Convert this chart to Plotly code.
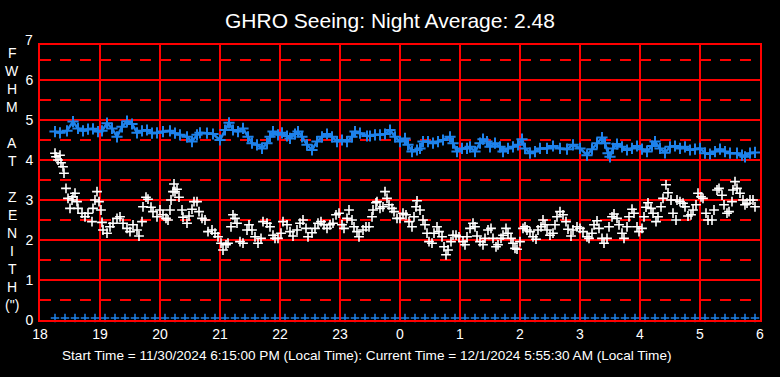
import plotly.graph_objects as go

# ---- data (minutes after 18:00, FWHM arcsec) ----
blue_min = [15,20,27,33,38,43,48,53,58,62,67,72,77,82,87,92,97,102,107,112,117,123,130,135,140,147,152,157,
            160,167,173,180,185,189,193,198,203,208,212,217,222,227,230,233,238,242,247,250,255,258,262,267,272,277,282,287,292,297,302,307,312,315,320,327,
            330,335,340,345,350,355,360,365,368,372,377,380,383,388,393,398,403,410,413,417,422,427,430,435,440,443,447,450,455,460,463,468,473,478,482,485,490,495,500,507,513,
            520,527,533,540,547,552,557,562,565,568,570,573,577,582,587,592,597,602,607,612,615,620,625,630,635,640,645,650,655,660,665,670,675,680,685,690,697,702,705,710,715]
blue_val = [4.71,4.68,4.73,4.96,4.79,4.73,4.77,4.78,4.71,4.73,4.92,4.79,4.58,4.83,4.97,4.90,4.68,4.73,4.75,4.67,4.68,4.71,4.73,4.67,4.63,4.58,4.46,4.63,
            4.68,4.67,4.65,4.50,4.75,4.93,4.75,4.71,4.79,4.58,4.42,4.38,4.29,4.42,4.58,4.71,4.63,4.68,4.60,4.54,4.65,4.71,4.58,4.38,4.25,4.46,4.58,4.65,4.58,4.46,4.50,4.46,4.58,4.71,4.67,4.60,
            4.60,4.63,4.63,4.65,4.75,4.58,4.46,4.54,4.38,4.21,4.25,4.29,4.46,4.46,4.42,4.46,4.50,4.58,4.42,4.21,4.29,4.29,4.33,4.21,4.42,4.52,4.46,4.33,4.42,4.33,4.21,4.29,4.33,4.38,4.52,4.29,4.17,4.21,4.29,4.29,4.35,
            4.29,4.27,4.38,4.29,4.12,4.27,4.42,4.56,4.42,4.17,4.08,4.29,4.40,4.33,4.25,4.29,4.35,4.27,4.21,4.35,4.46,4.29,4.18,4.33,4.35,4.29,4.33,4.25,4.27,4.29,4.17,4.15,4.21,4.27,4.21,4.17,4.17,4.12,4.08,4.17,4.19]

white_min = [15,16,18,20,21,23,24,26,28,30,32,33,35,37,38,42,45,48,52,53,55,57,59,61,62,63,67,70,73,77,80,83,87,90,93,97,99,
             102,103,106,108,111,113,117,120,123,126,128,130,131,133,134,135,137,139,142,143,147,149,152,154,157,159,162,165,168,172,175,178,
             181,183,186,188,191,193,195,197,200,203,207,209,212,215,218,221,223,227,230,233,235,238,241,243,247,250,253,257,260,263,266,268,272,275,278,
             281,284,287,290,293,296,299,302,304,307,309,312,314,317,319,323,326,329,332,333,336,
             337,340,343,345,347,349,352,354,357,360,363,366,369,372,374,376,377,380,383,385,387,389,392,394,397,399,402,404,406,408,411,413,416,419,423,425,427,
             430,433,435,437,440,443,445,448,451,453,456,458,461,463,466,468,471,473,475,477,480,483,485,487,490,493,496,498,501,503,505,507,510,513,515,517,
             520,523,526,528,531,533,537,540,543,547,549,552,554,557,559,562,564,567,569,572,574,577,579,582,584,587,589,592,594,597,599,602,604,606,608,611,613,616,618,
             621,623,626,628,631,633,636,637,640,643,645,648,651,653,656,658,661,663,666,668,672,674,677,679,682,684,687,689,692,693,695,697,700,703,705,707,710,713,715]
white_val = [4.17,4.08,4.00,4.12,3.93,3.83,3.67,3.29,3.04,2.79,3.00,3.08,3.17,2.96,2.79,2.67,2.58,2.67,2.46,2.79,3.00,3.21,2.96,2.75,2.44,2.25,2.17,2.33,2.42,2.54,2.58,2.42,2.29,2.21,2.38,2.25,2.10,
             2.46,2.83,3.07,3.02,2.82,2.71,2.58,2.75,2.63,2.54,2.50,2.75,3.00,3.21,3.40,3.21,3.27,3.07,2.75,2.57,2.42,2.60,2.77,2.96,2.96,2.71,2.54,2.50,2.21,2.25,2.17,2.08,
             1.92,1.75,1.88,1.92,2.33,2.63,2.54,2.42,1.96,1.92,2.25,2.38,2.25,2.08,1.92,2.04,2.46,2.42,2.33,2.12,2.04,2.04,2.17,2.46,2.38,2.21,2.10,2.25,2.42,2.50,2.29,2.08,2.18,2.29,2.42,
             2.46,2.38,2.29,2.38,2.42,2.63,2.67,2.38,2.29,2.54,2.75,2.50,2.33,2.21,2.08,2.25,2.33,2.33,2.58,2.75,2.93,
             2.96,2.79,2.83,3.21,3.04,2.88,2.79,2.71,2.54,2.54,2.67,2.63,2.46,2.33,2.58,2.83,2.98,2.75,2.50,2.38,2.17,1.96,1.92,2.17,2.33,2.21,2.08,1.83,1.63,1.75,1.96,2.12,2.12,2.08,1.96,1.88,2.08,
             2.29,2.42,2.33,2.10,1.96,1.88,2.04,2.25,2.29,2.04,1.83,1.88,2.04,2.12,2.29,2.17,2.04,1.92,1.79,1.77,1.96,2.29,2.33,2.25,2.21,2.08,2.02,2.25,2.33,2.50,2.38,2.25,2.12,2.17,2.38,2.58,
             2.71,2.63,2.46,2.27,2.10,2.25,2.33,2.29,2.21,2.08,2.04,2.17,2.38,2.48,2.29,2.04,1.92,2.04,2.33,2.58,2.65,2.54,2.38,2.17,2.04,2.33,2.58,2.77,2.67,2.33,2.21,2.29,2.58,2.82,2.93,2.79,2.67,2.46,2.58,
             2.83,3.04,3.38,3.18,3.00,2.67,2.50,3.00,2.96,2.92,2.83,2.60,2.63,2.75,2.88,3.17,3.08,3.04,2.67,2.50,2.50,2.75,3.25,3.29,3.12,2.88,2.67,2.71,2.96,3.25,3.46,3.29,3.17,3.00,2.88,2.92,3.00,3.00,2.83]

base_min = [15,25,35,45,55,65,75,85,95,105,115,125,135,145,155,165,175,185,195,205,215,225,235,245,255,265,275,285,295,305,
            315,325,335,345,355,365,375,385,395,405,415,425,435,445,455,465,475,485,495,505,515,525,535,545,555,565,575,585,595,605,
            615,625,635,645,655,665,675,685,695,705,715]
base_val = [0.05] * len(base_min)

hour_ticks = [18,19,20,21,22,23,24,25,26,27,28,29,30]
hour_text = ["18","19","20","21","22","23","0","1","2","3","4","5","6"]

title_text = "GHRO Seeing: Night Average: 2.48"
footer_text = "Start Time = 11/30/2024 6:15:00 PM (Local Time): Current Time = 12/1/2024 5:55:30 AM (Local Time)"
ytitle_letters = ["F","W","H","M","","A","T","","Z","E","N","I","T","H","(\")"]

def hrs(mins):
    return [18 + m / 60 for m in mins]

BLUE = "#1E82EB"
RED = "#FF0000"
FONT = "Liberation Sans, Arial, sans-serif"

fig = go.Figure()
fig.add_trace(go.Scatter(x=hrs(blue_min), y=blue_val, mode="lines+markers",
                         line=dict(color=BLUE, width=2.5),
                         marker=dict(symbol="cross-thin", size=8, color=BLUE, line=dict(color=BLUE, width=2)),
                         showlegend=False, hoverinfo="skip"))
fig.add_trace(go.Scatter(x=hrs(white_min), y=white_val, mode="markers",
                         marker=dict(symbol="cross-thin", size=7, color="white", line=dict(color="white", width=1.6)),
                         showlegend=False, hoverinfo="skip"))
fig.add_trace(go.Scatter(x=hrs(base_min), y=base_val, mode="markers",
                         marker=dict(symbol="cross-thin", size=6, color=BLUE, line=dict(color=BLUE, width=1.5)),
                         showlegend=False, hoverinfo="skip", cliponaxis=False))

W, H = 780, 377
L, R, T, B = 40, 20, 45, 57
PW, PH = W - L - R, H - T - B

def px_x(xp):
    return (xp - L) / PW

def px_y(yp):
    return (H - B - yp) / PH

fig.update_layout(
    width=W, height=H, autosize=False,
    margin=dict(l=L, r=R, t=T, b=B, pad=0, autoexpand=False),
    paper_bgcolor="black", plot_bgcolor="black",
    font=dict(family=FONT, color="white", size=14),
    title=dict(text=title_text, x=0.5, xanchor="center", xref="container", yref="container",
               y=1 - 21 / H, yanchor="middle",
               font=dict(size=21, color="white", family=FONT)),
    xaxis=dict(range=[18, 30], tickvals=hour_ticks, ticktext=hour_text, automargin=False,
               showgrid=True, gridcolor=RED, gridwidth=2,
               showline=True, linecolor=RED, linewidth=2, mirror=True,
               zeroline=False, ticks="", tickfont=dict(size=14, color="white")),
    yaxis=dict(range=[0, 6.875], tickvals=[0,1,2,3,4,5,6], automargin=False,
               showgrid=True, gridcolor=RED, gridwidth=2,
               minor=dict(dtick=0.5, tick0=0, showgrid=True, gridcolor=RED, gridwidth=2, griddash="11px,9px"),
               showline=True, linecolor=RED, linewidth=2, mirror=True,
               zeroline=False, ticks="", tickfont=dict(size=14, color="white"), ticklabelstandoff=2),
)

# stray "7" tick label above the frame
fig.add_annotation(text="7", xref="paper", yref="paper", x=px_x(35), y=px_y(40), xanchor="right", yanchor="middle",
                   showarrow=False, font=dict(size=14, color="white", family=FONT))

# vertical axis title letters
ypos = [53, 71, 89, 107, 125, 143, 161, 179, 197, 215, 233, 251, 269, 287, 305]
for ch, yp in zip(ytitle_letters, ypos):
    if ch:
        fig.add_annotation(text=ch, xref="paper", yref="paper", x=px_x(12), y=px_y(yp),
                           xanchor="center", yanchor="middle", showarrow=False,
                           font=dict(size=14, color="white", family=FONT))

fig.add_annotation(text=footer_text, xref="paper", yref="paper", x=px_x(367), y=px_y(355),
                   xanchor="center", yanchor="middle", showarrow=False,
                   font=dict(size=13.6, color="white", family=FONT))

fig.write_html("out.html", config={"displayModeBar": False, "staticPlot": True},
               post_script="document.body.style.margin='0';document.body.style.background='black';document.body.style.overflow='hidden';")
